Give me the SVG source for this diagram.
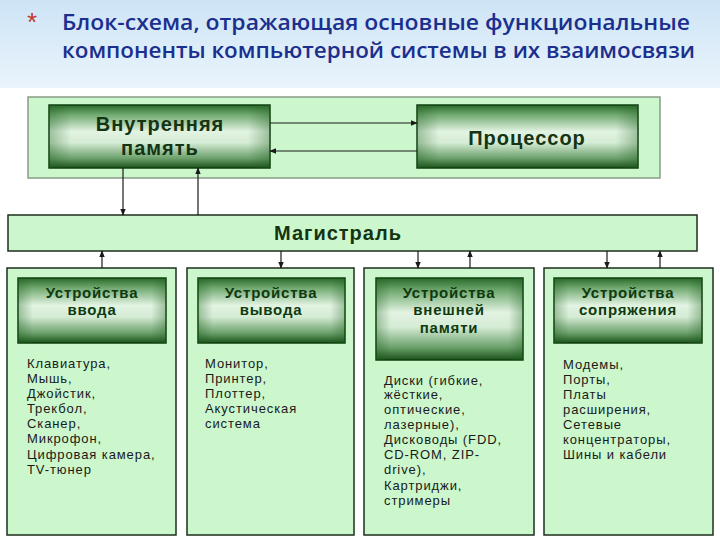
<svg xmlns="http://www.w3.org/2000/svg" width="720" height="540" viewBox="0 0 720 540">
<defs>
<linearGradient id="bg" x1="0" y1="0" x2="0" y2="1">
<stop offset="0" stop-color="#cde4f6"/>
<stop offset="1" stop-color="#eaf4fb"/>
</linearGradient>
<linearGradient id="hdr" x1="0" y1="0" x2="0" y2="1">
<stop offset="0" stop-color="#2a6a2a"/>
<stop offset="0.15" stop-color="#6fa86f"/>
<stop offset="0.42" stop-color="#e2f3e2"/>
<stop offset="0.6" stop-color="#d4ebd4"/>
<stop offset="0.85" stop-color="#6a9f6a"/>
<stop offset="1" stop-color="#1a521a"/>
</linearGradient>
<linearGradient id="hside" x1="0" y1="0" x2="1" y2="0">
<stop offset="0" stop-color="#1f5f1f" stop-opacity="0.35"/>
<stop offset="0.1" stop-color="#1f5f1f" stop-opacity="0"/>
<stop offset="0.9" stop-color="#1f5f1f" stop-opacity="0"/>
<stop offset="1" stop-color="#1f5f1f" stop-opacity="0.35"/>
</linearGradient>
<marker id="ah" viewBox="0 0 10 10" refX="9" refY="5" markerWidth="7" markerHeight="7" orient="auto-start-reverse" markerUnits="userSpaceOnUse">
<path d="M0,1 L10,5 L0,9 z" fill="#1a1a1a"/>
</marker>
<style>
.title{font-family:"Open Sans","Liberation Sans",sans-serif;font-size:22px;font-weight:600;fill:#1b2f8f}
.panel{fill:#ccf7cc;stroke:#1e2e1e;stroke-width:1.5}
.toppanel{fill:#ccf7cc;stroke:#8a9a8a;stroke-width:1.5}
.box{fill:url(#hdr);stroke:#0f3f0f;stroke-width:1.5}
.side{fill:url(#hside)}
.big{font-family:"Liberation Sans",Arial,sans-serif;font-size:20px;font-weight:bold;fill:#143414;letter-spacing:1px;text-anchor:middle}
.hd{font-family:"Liberation Sans",Arial,sans-serif;font-size:15px;font-weight:bold;fill:#0f3a0f;letter-spacing:0.8px;text-anchor:middle}
.li{font-family:"Liberation Sans",Arial,sans-serif;font-size:13px;fill:#1a1a1a;letter-spacing:0.9px}
.ln{stroke:#1a1a1a;stroke-width:1.2;fill:none}
</style>
</defs>
<rect x="0" y="0" width="720" height="540" fill="#ffffff"/>
<rect x="0" y="0" width="720" height="88" fill="url(#bg)"/>
<g id="title">
<text x="27" y="31" font-family="Liberation Sans,sans-serif" font-size="26" fill="#c0392b">*</text>
<text class="title" x="62" y="30" textLength="628" lengthAdjust="spacingAndGlyphs">Блок-схема, отражающая основные функциональные</text>
<text class="title" x="62" y="58" textLength="633" lengthAdjust="spacingAndGlyphs">компоненты компьютерной системы в их взаимосвязи</text>
</g>
<g id="top-container"><rect class="toppanel" x="28" y="97" width="632" height="81"/></g>
<g id="memory">
<rect class="box" x="49" y="105" width="221" height="63"/>
<rect class="side" x="49" y="105" width="221" height="63"/>
<text class="big" x="160" y="131">Внутренняя</text>
<text class="big" x="160" y="155">память</text>
</g>
<g id="cpu">
<rect class="box" x="417" y="105" width="221" height="63"/>
<rect class="side" x="417" y="105" width="221" height="63"/>
<text class="big" x="527" y="145">Процессор</text>
</g>
<g id="bus">
<rect class="panel" x="8" y="215" width="689" height="36"/>
<text class="big" x="338" y="240">Магистраль</text>
</g>
<g id="input">
<rect class="panel" x="7" y="268" width="169" height="267"/>
<rect class="box" x="18" y="278" width="148" height="65"/>
<rect class="side" x="18" y="278" width="148" height="65"/>
<text class="hd" x="92" y="298">Устройства</text>
<text class="hd" x="92" y="315">ввода</text>
<text class="li"><tspan x="27" y="368">Клавиатура,</tspan><tspan x="27" y="383">Мышь,</tspan><tspan x="27" y="398">Джойстик,</tspan><tspan x="27" y="413">Трекбол,</tspan><tspan x="27" y="428">Сканер,</tspan><tspan x="27" y="443">Микрофон,</tspan><tspan x="27" y="459">Цифровая камера,</tspan><tspan x="27" y="474">TV-тюнер</tspan></text>
</g>
<g id="output">
<rect class="panel" x="187" y="268" width="167" height="267"/>
<rect class="box" x="198" y="278" width="147" height="65"/>
<rect class="side" x="198" y="278" width="147" height="65"/>
<text class="hd" x="271" y="298">Устройства</text>
<text class="hd" x="271" y="315">вывода</text>
<text class="li"><tspan x="205" y="368">Монитор,</tspan><tspan x="205" y="383">Принтер,</tspan><tspan x="205" y="398">Плоттер,</tspan><tspan x="205" y="413">Акустическая</tspan><tspan x="205" y="428">система</tspan></text>
</g>
<g id="storage">
<rect class="panel" x="364" y="268" width="170" height="267"/>
<rect class="box" x="376" y="278" width="147" height="82"/>
<rect class="side" x="376" y="278" width="147" height="82"/>
<text class="hd" x="449" y="298">Устройства</text>
<text class="hd" x="449" y="315">внешней</text>
<text class="hd" x="449" y="333">памяти</text>
<text class="li"><tspan x="384" y="385">Диски (гибкие,</tspan><tspan x="384" y="399">жёсткие,</tspan><tspan x="384" y="414">оптические,</tspan><tspan x="384" y="429">лазерные),</tspan><tspan x="384" y="444">Дисководы (FDD,</tspan><tspan x="384" y="459">CD-ROM, ZIP-</tspan><tspan x="384" y="474">drive),</tspan><tspan x="384" y="490">Картриджи,</tspan><tspan x="384" y="505">стримеры</tspan></text>
</g>
<g id="interface">
<rect class="panel" x="544" y="268" width="169" height="267"/>
<rect class="box" x="554" y="278" width="148" height="65"/>
<rect class="side" x="554" y="278" width="148" height="65"/>
<text class="hd" x="628" y="298">Устройства</text>
<text class="hd" x="628" y="315">сопряжения</text>
<text class="li"><tspan x="563" y="369">Модемы,</tspan><tspan x="563" y="384">Порты,</tspan><tspan x="563" y="399">Платы</tspan><tspan x="563" y="414">расширения,</tspan><tspan x="563" y="429">Сетевые</tspan><tspan x="563" y="444">концентраторы,</tspan><tspan x="563" y="459">Шины и кабели</tspan></text>
</g>
<g id="connectors">
<line class="ln" x1="270" y1="123" x2="417" y2="123" marker-end="url(#ah)"/>
<line class="ln" x1="417" y1="151" x2="270" y2="151" marker-end="url(#ah)"/>
<line class="ln" x1="123" y1="168" x2="123" y2="215" marker-end="url(#ah)"/>
<line class="ln" x1="198" y1="215" x2="198" y2="168" marker-end="url(#ah)"/>
<line class="ln" x1="102" y1="268" x2="102" y2="251" marker-end="url(#ah)"/>
<line class="ln" x1="281" y1="251" x2="281" y2="268" marker-end="url(#ah)"/>
<line class="ln" x1="418" y1="251" x2="418" y2="268" marker-end="url(#ah)"/>
<line class="ln" x1="470" y1="268" x2="470" y2="251" marker-end="url(#ah)"/>
<line class="ln" x1="607" y1="251" x2="607" y2="268" marker-end="url(#ah)"/>
<line class="ln" x1="660" y1="268" x2="660" y2="251" marker-end="url(#ah)"/>
</g>
</svg>
